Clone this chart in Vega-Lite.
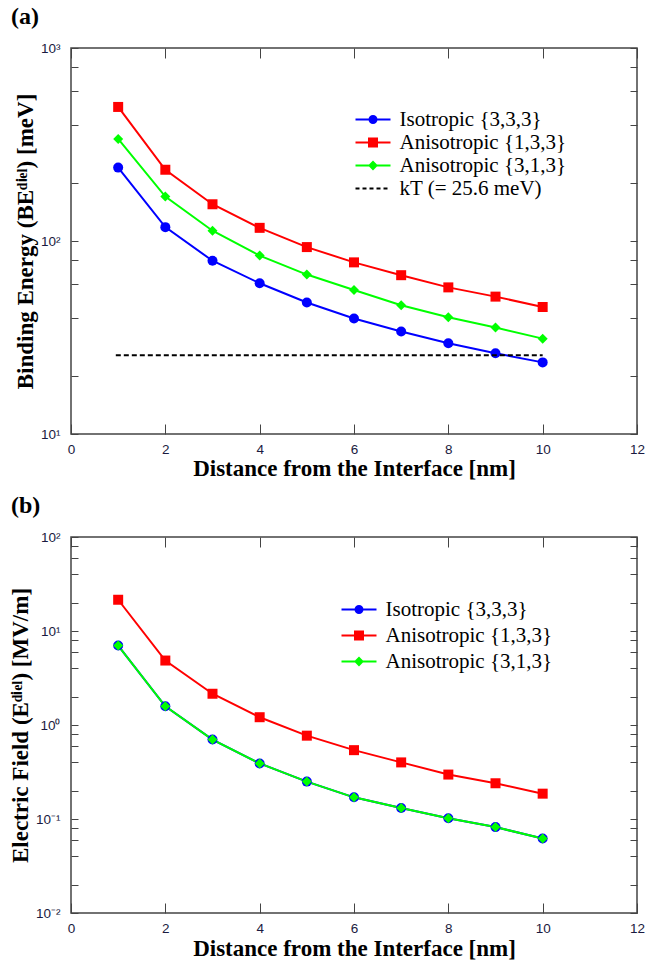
{
  "$schema": "https://vega.github.io/schema/vega-lite/v6.json",
  "padding": {"left": 8, "top": 4, "right": 0, "bottom": 0},
  "spacing": 11,
  "resolve": {"scale": {"color": "independent", "shape": "independent"}},
  "config": {
    "view": {"stroke": "#444", "strokeWidth": 1.5},
    "axis": {"grid": false, "domain": false, "tickColor": "#444", "tickWidth": 1, "labelFont": "Liberation Sans", "labelFontSize": 13.5, "labelColor": "#1a1a40", "titleFont": "Liberation Serif", "titleFontSize": 23, "titleFontWeight": "bold", "titleColor": "#000", "labelOverlap": false, "labelFlush": false},
    "legend": {"orient": "none", "labelFont": "Liberation Serif", "labelFontSize": 21, "labelColor": "#000", "symbolSize": 100, "symbolStrokeWidth": 2, "symbolOffset": 12.5, "labelOffset": 16, "rowPadding": 2, "padding": 0, "symbolOpacity": 1, "labelLimit": 0},
    "title": {"font": "Liberation Serif", "fontSize": 24, "fontWeight": "bold", "color": "#000", "anchor": "start", "frame": "group"}
  },
  "vconcat": [
    {
      "title": {"text": "(a)", "dx": -60, "offset": 12},
      "width": 566,
      "height": 386,
      "resolve": {"scale": {"color": "independent", "shape": "independent"}, "axis": {"x": "independent", "y": "independent"}},
      "layer": [
        {
          "data": {"values": [
            {"series": "Isotropic {3,3,3}", "x": 1, "v": 240},
            {"series": "Isotropic {3,3,3}", "x": 2, "v": 118},
            {"series": "Isotropic {3,3,3}", "x": 3, "v": 79},
            {"series": "Isotropic {3,3,3}", "x": 4, "v": 60.4},
            {"series": "Isotropic {3,3,3}", "x": 5, "v": 48},
            {"series": "Isotropic {3,3,3}", "x": 6, "v": 39.7},
            {"series": "Isotropic {3,3,3}", "x": 7, "v": 34},
            {"series": "Isotropic {3,3,3}", "x": 8, "v": 29.5},
            {"series": "Isotropic {3,3,3}", "x": 9, "v": 26.2},
            {"series": "Isotropic {3,3,3}", "x": 10, "v": 23.5},
            {"series": "Anisotropic {1,3,3}", "x": 1, "v": 495},
            {"series": "Anisotropic {1,3,3}", "x": 2, "v": 234},
            {"series": "Anisotropic {1,3,3}", "x": 3, "v": 155},
            {"series": "Anisotropic {1,3,3}", "x": 4, "v": 117},
            {"series": "Anisotropic {1,3,3}", "x": 5, "v": 93},
            {"series": "Anisotropic {1,3,3}", "x": 6, "v": 77.5},
            {"series": "Anisotropic {1,3,3}", "x": 7, "v": 66.5},
            {"series": "Anisotropic {1,3,3}", "x": 8, "v": 57.5},
            {"series": "Anisotropic {1,3,3}", "x": 9, "v": 51.5},
            {"series": "Anisotropic {1,3,3}", "x": 10, "v": 45.5},
            {"series": "Anisotropic {3,1,3}", "x": 1, "v": 338},
            {"series": "Anisotropic {3,1,3}", "x": 2, "v": 170},
            {"series": "Anisotropic {3,1,3}", "x": 3, "v": 113},
            {"series": "Anisotropic {3,1,3}", "x": 4, "v": 84},
            {"series": "Anisotropic {3,1,3}", "x": 5, "v": 67},
            {"series": "Anisotropic {3,1,3}", "x": 6, "v": 55.7},
            {"series": "Anisotropic {3,1,3}", "x": 7, "v": 46.5},
            {"series": "Anisotropic {3,1,3}", "x": 8, "v": 40.3},
            {"series": "Anisotropic {3,1,3}", "x": 9, "v": 35.6},
            {"series": "Anisotropic {3,1,3}", "x": 10, "v": 31.2}
          ]},
          "encoding": {
            "x": {"field": "x", "type": "quantitative", "scale": {"domain": [0, 12], "nice": false},
                  "axis": {"values": [0, 2, 4, 6, 8, 10, 12], "tickSize": -10, "labelPadding": 18, "labelFont": "Liberation Sans", "labelFontSize": 13.5, "title": "Distance from the Interface [nm]", "titlePadding": 2}},
            "y": {"field": "v", "type": "quantitative", "scale": {"type": "log", "domain": [10, 1000], "nice": false},
                  "axis": {"values": [10, 20, 40, 60, 80, 100, 200, 400, 600, 800, 1000], "tickSize": -7, "labelPadding": 18, "labelFont": "Liberation Sans", "labelFontSize": 13.5,
                           "labelExpr": "datum.value == 1000 ? '10³' : datum.value == 100 ? '10²' : datum.value == 10 ? '10¹' : ''",
                           "title": "Binding Energy (BEᵈⁱᵉˡ) [meV]", "titlePadding": 3}},
            "color": {"field": "series", "type": "nominal", "legend": null,
                      "scale": {"domain": ["Isotropic {3,3,3}", "Anisotropic {1,3,3}", "Anisotropic {3,1,3}", "kT (= 25.6 meV)"], "range": ["#0000ff", "#ff0000", "#00ff00", "#000000"]}}
          },
          "layer": [
            {"mark": {"type": "line", "strokeWidth": 2}, "encoding": {}},
            {"mark": {"type": "point", "filled": true, "opacity": 1, "size": 100},
             "encoding": {"shape": {"field": "series", "type": "nominal", "legend": null,
                                    "scale": {"domain": ["Isotropic {3,3,3}", "Anisotropic {1,3,3}", "Anisotropic {3,1,3}"], "range": ["circle", "square", "diamond"]}}}},
            {"data": {"values": [{"series": "kT (= 25.6 meV)", "x": 0.95, "x2": 10, "v": 25.6}]},
             "mark": {"type": "rule", "strokeWidth": 2, "strokeDash": [5, 3]},
             "encoding": {"x2": {"field": "x2"}}}
          ]
        },
        {
          "data": {"values": [
            {"series": "Isotropic {3,3,3}", "x": 1, "v": 240},
            {"series": "Anisotropic {1,3,3}", "x": 1, "v": 495},
            {"series": "Anisotropic {3,1,3}", "x": 1, "v": 338},
            {"series": "kT (= 25.6 meV)", "x": 1, "v": 25.6}
          ]},
          "mark": {"type": "point", "filled": false, "opacity": 0},
          "encoding": {
            "x": {"field": "x", "type": "quantitative", "axis": {"orient": "top", "values": [0, 2, 4, 6, 8, 10, 12], "tickSize": -10, "labels": false, "title": null}},
            "y": {"field": "v", "type": "quantitative", "axis": {"orient": "right", "values": [10, 20, 40, 60, 80, 100, 200, 400, 600, 800, 1000], "tickSize": -7, "labels": false, "title": null}},
            "color": {"field": "series", "type": "nominal",
                      "scale": {"domain": ["Isotropic {3,3,3}", "Anisotropic {1,3,3}", "Anisotropic {3,1,3}", "kT (= 25.6 meV)"], "range": ["#0000ff", "#ff0000", "#00ff00", "#000000"]},
                      "legend": {"title": null, "legendX": 279, "legendY": 61, "rowPadding": 1, "labelFont": "Liberation Serif", "labelFontSize": 21, "labelOffset": 16}},
            "shape": {"field": "series", "type": "nominal",
                      "scale": {"domain": ["Isotropic {3,3,3}", "Anisotropic {1,3,3}", "Anisotropic {3,1,3}", "kT (= 25.6 meV)"],
                                "range": ["M-3.5,0H3.5M-0.7,0A0.7,0.7,0,1,0,0.7,0A0.7,0.7,0,1,0,-0.7,0M-0.4,0A0.4,0.4,0,1,0,0.4,0A0.4,0.4,0,1,0,-0.4,0M-0.1,0A0.1,0.1,0,1,0,0.1,0A0.1,0.1,0,1,0,-0.1,0",
                                          "M-3.5,0H3.5M-0.8,-0.8H0.8V0.8H-0.8ZM-0.45,-0.45H0.45V0.45H-0.45ZM-0.1,-0.1H0.1V0.1H-0.1Z",
                                          "M-3.5,0H3.5M-0.7,0L0,-0.7L0.7,0L0,0.7ZM-0.35,0L0,-0.35L0.35,0L0,0.35ZM-0.05,0L0,-0.05L0.05,0L0,0.05Z",
                                          "M-3.5,0H-2.7M-2.1,0H-1.3M-0.7,0H0.1M0.7,0H1.5M2.1,0H2.9"]},
                      "legend": {"title": null, "legendX": 279, "legendY": 61, "rowPadding": 1, "labelFont": "Liberation Serif", "labelFontSize": 21, "labelOffset": 16}}
          }
        }
      ]
    },
    {
      "title": {"text": "(b)", "dx": -60, "offset": 12},
      "width": 566,
      "height": 376,
      "resolve": {"scale": {"color": "independent", "shape": "independent"}, "axis": {"x": "independent", "y": "independent"}},
      "layer": [
        {
          "data": {"values": [
            {"series": "Isotropic {3,3,3}", "x": 1, "v": 7.0},
            {"series": "Isotropic {3,3,3}", "x": 2, "v": 1.58},
            {"series": "Isotropic {3,3,3}", "x": 3, "v": 0.70},
            {"series": "Isotropic {3,3,3}", "x": 4, "v": 0.39},
            {"series": "Isotropic {3,3,3}", "x": 5, "v": 0.25},
            {"series": "Isotropic {3,3,3}", "x": 6, "v": 0.17},
            {"series": "Isotropic {3,3,3}", "x": 7, "v": 0.131},
            {"series": "Isotropic {3,3,3}", "x": 8, "v": 0.102},
            {"series": "Isotropic {3,3,3}", "x": 9, "v": 0.082},
            {"series": "Isotropic {3,3,3}", "x": 10, "v": 0.062},
            {"series": "Anisotropic {1,3,3}", "x": 1, "v": 21.5},
            {"series": "Anisotropic {1,3,3}", "x": 2, "v": 4.85},
            {"series": "Anisotropic {1,3,3}", "x": 3, "v": 2.15},
            {"series": "Anisotropic {1,3,3}", "x": 4, "v": 1.21},
            {"series": "Anisotropic {1,3,3}", "x": 5, "v": 0.77},
            {"series": "Anisotropic {1,3,3}", "x": 6, "v": 0.54},
            {"series": "Anisotropic {1,3,3}", "x": 7, "v": 0.40},
            {"series": "Anisotropic {1,3,3}", "x": 8, "v": 0.297},
            {"series": "Anisotropic {1,3,3}", "x": 9, "v": 0.24},
            {"series": "Anisotropic {1,3,3}", "x": 10, "v": 0.186},
            {"series": "Anisotropic {3,1,3}", "x": 1, "v": 7.0},
            {"series": "Anisotropic {3,1,3}", "x": 2, "v": 1.58},
            {"series": "Anisotropic {3,1,3}", "x": 3, "v": 0.70},
            {"series": "Anisotropic {3,1,3}", "x": 4, "v": 0.39},
            {"series": "Anisotropic {3,1,3}", "x": 5, "v": 0.25},
            {"series": "Anisotropic {3,1,3}", "x": 6, "v": 0.17},
            {"series": "Anisotropic {3,1,3}", "x": 7, "v": 0.131},
            {"series": "Anisotropic {3,1,3}", "x": 8, "v": 0.102},
            {"series": "Anisotropic {3,1,3}", "x": 9, "v": 0.082},
            {"series": "Anisotropic {3,1,3}", "x": 10, "v": 0.062}
          ]},
          "encoding": {
            "x": {"field": "x", "type": "quantitative", "scale": {"domain": [0, 12], "nice": false},
                  "axis": {"values": [0, 2, 4, 6, 8, 10, 12], "tickSize": -10, "labelPadding": 18, "labelFont": "Liberation Sans", "labelFontSize": 13.5, "title": "Distance from the Interface [nm]", "titlePadding": 3}},
            "y": {"field": "v", "type": "quantitative", "scale": {"type": "log", "domain": [0.01, 100], "nice": false},
                  "axis": {"values": [0.01, 0.02, 0.04, 0.06, 0.08, 0.1, 0.2, 0.4, 0.6, 0.8, 1, 2, 4, 6, 8, 10, 20, 40, 60, 80, 100], "tickSize": -7, "labelPadding": 18, "labelFont": "Liberation Sans", "labelFontSize": 13.5,
                           "labelExpr": "datum.value == 100 ? '10²' : datum.value == 10 ? '10¹' : datum.value == 1 ? '10⁰' : datum.value == 0.1 ? '10⁻¹' : datum.value == 0.01 ? '10⁻²' : ''",
                           "title": "Electric Field (Eᵈⁱᵉˡ) [MV/m]", "titlePadding": 3}},
            "color": {"field": "series", "type": "nominal", "legend": null,
                      "scale": {"domain": ["Isotropic {3,3,3}", "Anisotropic {1,3,3}", "Anisotropic {3,1,3}"], "range": ["#0000ff", "#ff0000", "#00ff00"]}}
          },
          "layer": [
            {"mark": {"type": "line", "strokeWidth": 2}, "encoding": {}},
            {"mark": {"type": "point", "filled": true, "opacity": 1, "size": 100},
             "encoding": {"shape": {"field": "series", "type": "nominal", "legend": null,
                                    "scale": {"domain": ["Isotropic {3,3,3}", "Anisotropic {1,3,3}", "Anisotropic {3,1,3}"], "range": ["circle", "square", "diamond"]}}}}
          ]
        },
        {
          "data": {"values": [
            {"series": "Isotropic {3,3,3}", "x": 1, "v": 7.0},
            {"series": "Anisotropic {1,3,3}", "x": 1, "v": 21.5},
            {"series": "Anisotropic {3,1,3}", "x": 1, "v": 7.0}
          ]},
          "mark": {"type": "point", "filled": false, "opacity": 0},
          "encoding": {
            "x": {"field": "x", "type": "quantitative", "axis": {"orient": "top", "values": [0, 2, 4, 6, 8, 10, 12], "tickSize": -10, "labels": false, "title": null}},
            "y": {"field": "v", "type": "quantitative", "axis": {"orient": "right", "values": [0.01, 0.02, 0.04, 0.06, 0.08, 0.1, 0.2, 0.4, 0.6, 0.8, 1, 2, 4, 6, 8, 10, 20, 40, 60, 80, 100], "tickSize": -7, "labels": false, "title": null}},
            "color": {"field": "series", "type": "nominal",
                      "scale": {"domain": ["Isotropic {3,3,3}", "Anisotropic {1,3,3}", "Anisotropic {3,1,3}"], "range": ["#0000ff", "#ff0000", "#00ff00"]},
                      "legend": {"title": null, "legendX": 265, "legendY": 62, "rowPadding": 4, "labelFont": "Liberation Serif", "labelFontSize": 21, "labelOffset": 16}},
            "shape": {"field": "series", "type": "nominal",
                      "scale": {"domain": ["Isotropic {3,3,3}", "Anisotropic {1,3,3}", "Anisotropic {3,1,3}"],
                                "range": ["M-3.5,0H3.5M-0.7,0A0.7,0.7,0,1,0,0.7,0A0.7,0.7,0,1,0,-0.7,0M-0.4,0A0.4,0.4,0,1,0,0.4,0A0.4,0.4,0,1,0,-0.4,0M-0.1,0A0.1,0.1,0,1,0,0.1,0A0.1,0.1,0,1,0,-0.1,0",
                                          "M-3.5,0H3.5M-0.8,-0.8H0.8V0.8H-0.8ZM-0.45,-0.45H0.45V0.45H-0.45ZM-0.1,-0.1H0.1V0.1H-0.1Z",
                                          "M-3.5,0H3.5M-0.7,0L0,-0.7L0.7,0L0,0.7ZM-0.35,0L0,-0.35L0.35,0L0,0.35ZM-0.05,0L0,-0.05L0.05,0L0,0.05Z"]},
                      "legend": {"title": null, "legendX": 265, "legendY": 62, "rowPadding": 4, "labelFont": "Liberation Serif", "labelFontSize": 21, "labelOffset": 16}}
          }
        }
      ]
    }
  ]
}
